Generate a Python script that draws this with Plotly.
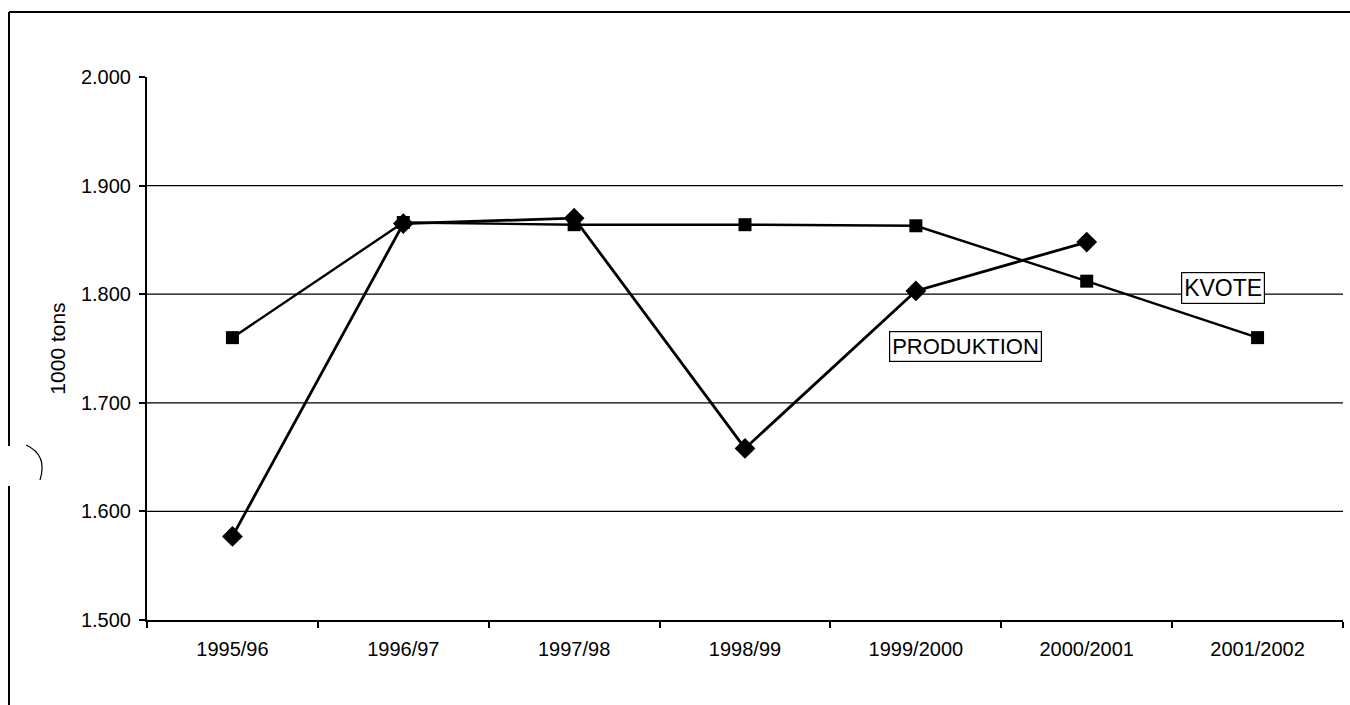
import plotly.graph_objects as go

seasons = ["1995/96", "1996/97", "1997/98", "1998/99", "1999/2000", "2000/2001", "2001/2002"]
produktion = [1577, 1865, 1870, 1658, 1803, 1848, None]
kvote = [1760, 1866, 1864, 1864, 1863, 1812, 1760]
y_ticks = [1500, 1600, 1700, 1800, 1900, 2000]
y_tick_labels = ["1.500", "1.600", "1.700", "1.800", "1.900", "2.000"]
grid_values = [1600, 1700, 1800, 1900]

FONT = "Arial, Liberation Sans, Helvetica, sans-serif"

fig = go.Figure()
fig.add_trace(go.Scatter(
    x=seasons, y=kvote, mode="lines+markers", name="KVOTE",
    line=dict(color="black", width=2.4),
    marker=dict(symbol="square", size=13, color="black"),
))
fig.add_trace(go.Scatter(
    x=seasons, y=produktion, mode="lines+markers", name="PRODUKTION",
    line=dict(color="black", width=2.8),
    marker=dict(symbol="diamond", size=16, color="black"),
))

# horizontal gridlines
for g in grid_values:
    fig.add_shape(type="line", xref="paper", yref="y", x0=0, x1=1, y0=g, y1=g,
                  line=dict(color="black", width=1.3), layer="below")

# labels
fig.add_annotation(x=5.8, y=1806, xref="x", yref="y", text="KVOTE", showarrow=False,
                   font=dict(family=FONT, size=23, color="black"),
                   bordercolor="black", borderwidth=1.2, borderpad=2, bgcolor="white")
fig.add_annotation(x=4.29, y=1752, xref="x", yref="y", text="PRODUKTION", showarrow=False,
                   font=dict(family=FONT, size=22, color="black"),
                   bordercolor="black", borderwidth=1.2, borderpad=2, bgcolor="white")

# scan border (top and left) and small arc
W, H = 1196.0, 543.0
L, T = 147.0, 77.0
def px(xp):
    return (xp - L) / W
def py(yp):
    return (T + H - yp) / H
fig.add_shape(type="line", xref="paper", yref="paper", x0=px(9), x1=px(1350), y0=py(12), y1=py(12),
              line=dict(color="black", width=2))
fig.add_shape(type="line", xref="paper", yref="paper", x0=px(9), x1=px(9), y0=py(12), y1=py(446),
              line=dict(color="black", width=2))
fig.add_shape(type="line", xref="paper", yref="paper", x0=px(9), x1=px(9), y0=py(486), y1=py(705),
              line=dict(color="black", width=2))
fig.add_shape(type="path", xref="paper", yref="paper",
              path=f"M {px(26)} {py(445)} Q {px(48)} {py(455)} {px(40)} {py(480)}",
              line=dict(color="black", width=1.2))

fig.update_layout(
    width=1350, height=705,
    margin=dict(l=147, r=7, t=77, b=85),
    paper_bgcolor="white", plot_bgcolor="white",
    showlegend=False,
    font=dict(family=FONT, color="black"),
    xaxis=dict(
        type="category", tickson="boundaries", ticks="outside", ticklen=6,
        tickcolor="black", tickwidth=1.5,
        showline=True, linecolor="black", linewidth=2, showgrid=False,
        tickfont=dict(family=FONT, size=20, color="black"),
        ticklabelstandoff=10, range=[-0.5, 6.5],
    ),
    yaxis=dict(
        range=[1500, 2000], tickvals=y_ticks, ticktext=y_tick_labels,
        ticks="outside", ticklen=6, tickcolor="black", tickwidth=1.5,
        showline=True, linecolor="black", linewidth=2, showgrid=False, zeroline=False,
        tickfont=dict(family=FONT, size=20, color="black"),
        ticklabelstandoff=4,
        title=dict(text="1000 tons", font=dict(family=FONT, size=21, color="black"), standoff=10),
    ),
)

fig.write_html("out.html", config={"displayModeBar": False},
               post_script="document.body.style.margin='0';document.body.style.overflow='hidden';")
